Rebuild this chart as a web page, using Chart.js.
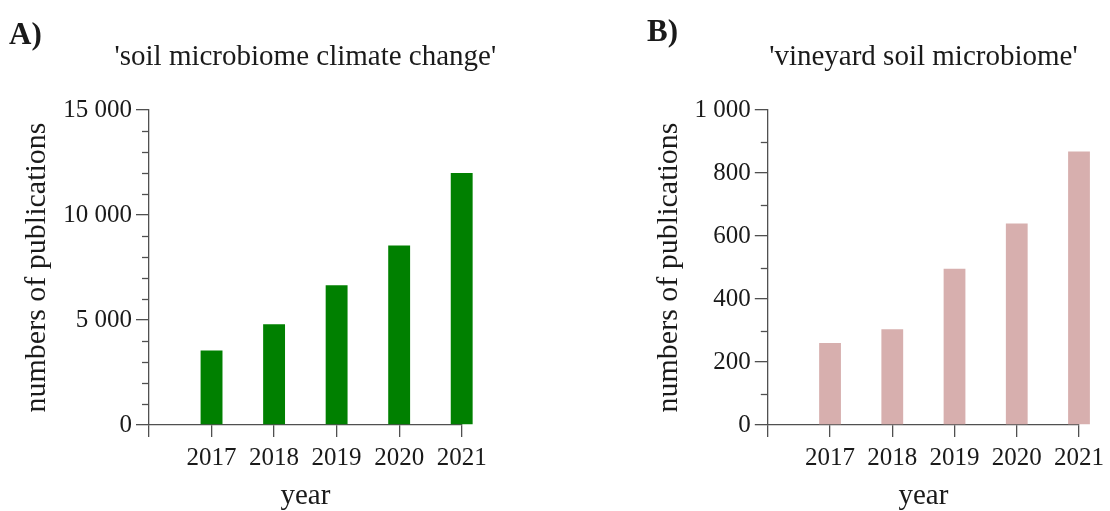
<!DOCTYPE html>
<html>
<head>
<meta charset="utf-8">
<script src="https://cdn.jsdelivr.net/npm/chart.js@4/dist/chart.umd.min.js"></script>
<style>
  body { margin: 0; background: #fff; }
  canvas { position: absolute; top: 0; }
  #chartA { left: 0; }
  #chartB { left: 555px; }
</style>
</head>
<body>
<canvas id="chartA" width="555" height="511"></canvas>
<canvas id="chartB" width="555" height="511"></canvas>
<script>
// data
const years = ['', '2017', '2018', '2019', '2020', '2021'];
const climateCounts = [null, 3550, 4800, 6650, 8550, 12000];
const vineyardCounts = [null, 260, 304, 496, 640, 868];
const climateYTicks = { max: 15000, minor: 1000, major: 5000 };
const vineyardYTicks = { max: 1000, minor: 100, major: 200 };

const axisColor = '#505050';
const textColor = '#1a1a1a';
const serif = '"Liberation Serif", "Times New Roman", serif';

// short ticks between the labelled ones
const minorTicks = {
    id: 'minorTicks',
    afterDraw(chart, args, opts) {
        const s = chart.scales.y;
        const c = chart.ctx;
        c.save();
        c.strokeStyle = axisColor;
        c.lineWidth = 1.3;
        s.ticks.forEach(t => {
            if (t.value % opts.major !== 0) {
                const y = Math.round(s.getPixelForValue(t.value)) + 0.5;
                c.beginPath();
                c.moveTo(s.right - opts.len, y);
                c.lineTo(s.right, y);
                c.stroke();
            }
        });
        c.restore();
    }
};

// heading centred over the plot area, allowed to run wider than it
const heading = {
    id: 'heading',
    afterDraw(chart, args, opts) {
        const a = chart.chartArea;
        const c = chart.ctx;
        c.save();
        c.fillStyle = textColor;
        c.font = '29px ' + serif;
        c.textAlign = 'center';
        c.textBaseline = 'alphabetic';
        c.fillText(opts.text, (a.left + a.right) / 2, a.top - opts.gap);
        c.restore();
    }
};

function fmt(v) {
    return String(v).replace(/\B(?=(\d{3})+(?!\d))/g, ' ');
}

function makePanel(id, letter, title, counts, yt, color, p) {
    const ctx = document.getElementById(id).getContext('2d');
    return new Chart(ctx, {
        type: 'bar',
        data: {
            labels: years,
            datasets: [{
                label: title,
                data: counts,
                backgroundColor: color,
                borderWidth: 0,
                barPercentage: 0.35,
                categoryPercentage: 1,
                clip: false
            }]
        },
        options: {
            responsive: false,
            animation: false,
            devicePixelRatio: 1,
            layout: {
                padding: { left: p.left, right: p.right, top: 0, bottom: 0 }
            },
            plugins: {
                legend: { display: false },
                tooltip: { enabled: false },
                title: {
                    display: true,
                    text: letter,
                    align: 'start',
                    color: textColor,
                    font: { family: serif, size: 31, weight: 'bold', lineHeight: 1 },
                    padding: { top: p.letterTop, bottom: 79 - p.letterTop }
                },
                heading: { text: title, gap: 45 },
                minorTicks: { major: yt.major, len: 7 }
            },
            scales: {
                x: {
                    type: 'category',
                    offset: false,
                    grid: {
                        offset: false,
                        drawOnChartArea: false,
                        drawTicks: true,
                        tickLength: 12,
                        color: axisColor,
                        lineWidth: 1.3
                    },
                    border: { display: true, color: axisColor, width: 1.3 },
                    ticks: {
                        color: textColor,
                        font: { family: serif, size: 25, lineHeight: 1.2 },
                        padding: 6,
                        maxRotation: 0,
                        autoSkip: false
                    },
                    title: {
                        display: true,
                        text: 'year',
                        color: textColor,
                        font: { family: serif, size: 29, lineHeight: 1 },
                        padding: { top: 2.5, bottom: 0.5 }
                    }
                },
                y: {
                    min: 0,
                    max: yt.max,
                    afterFit(scale) { scale.width = p.axisWidth; },
                    grid: {
                        drawOnChartArea: false,
                        drawTicks: true,
                        tickLength: 13,
                        color: axisColor,
                        lineWidth: 1.3,
                        tickColor: (c) => (c.tick && c.tick.value % yt.major === 0) ? axisColor : 'rgba(0,0,0,0)'
                    },
                    border: { display: true, color: axisColor, width: 1.3 },
                    ticks: {
                        stepSize: yt.minor,
                        autoSkip: false,
                        color: textColor,
                        font: { family: serif, size: 25, lineHeight: 1.2 },
                        padding: 4,
                        callback: (v) => v % yt.major === 0 ? fmt(v) : ''
                    },
                    title: {
                        display: true,
                        text: 'numbers of publications',
                        color: textColor,
                        font: { family: serif, size: 30, lineHeight: 1.2 },
                        padding: { top: p.yTitlePad, bottom: 0 }
                    }
                }
            }
        },
        plugins: [minorTicks, heading]
    });
}

makePanel('chartA', 'A)', "'soil microbiome climate change'", climateCounts, climateYTicks, '#008000',
    { left: 9, right: 93.3, axisWidth: 140, yTitlePad: 10, letterTop: 20 });
makePanel('chartB', 'B)', "'vineyard soil microbiome'", vineyardCounts, vineyardYTicks, '#d7afae',
    { left: 92, right: 27.7, axisWidth: 120.8, yTitlePad: 4, letterTop: 17 });
</script>
</body>
</html>
